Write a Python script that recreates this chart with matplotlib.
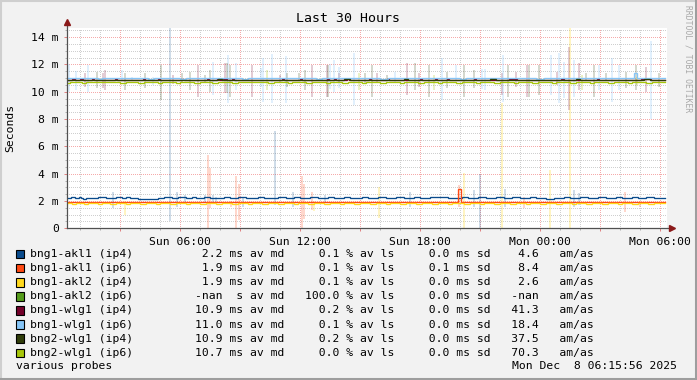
import matplotlib

matplotlib.use("Agg")

import matplotlib.pyplot as plt
from matplotlib.patches import Rectangle
from matplotlib.ticker import FixedLocator, MultipleLocator

W, H = 697, 380
MONO = "DejaVu Sans Mono"

plt.rcParams.update({
    "font.family": MONO,
    "font.size": 8.2,
})

# time axis: hours since Sun 00:00
T_START, T_END, T_AXIS_END = 0.35, 30.25, 30.35
Y_MAX = 14.67

x_tick_pos = [3, 6, 9, 12, 15, 18, 21, 24, 27, 30]
x_tick_labels = ["", "Sun 06:00", "", "Sun 12:00", "", "Sun 18:00", "",
                 "Mon 00:00", "", "Mon 06:00"]
y_tick_pos = [0, 2, 4, 6, 8, 10, 12, 14]
y_tick_labels = ["0", "2 m", "4 m", "6 m", "8 m", "10 m", "12 m", "14 m"]

names = ["bng1-akl1 (ip4)", "bng1-akl1 (ip6)", "bng1-akl2 (ip4)", "bng1-akl2 (ip6)",
         "bng1-wlg1 (ip4)", "bng1-wlg1 (ip6)", "bng2-wlg1 (ip4)", "bng2-wlg1 (ip6)"]
colors = ["#0a4b8c", "#ff4a13", "#ffd81c", "#559c1b",
          "#73002a", "#86c5f7", "#303d0a", "#a7c60a"]
med_vals = ["2.2", "1.9", "1.9", "-nan", "10.9", "11.0", "10.9", "10.7"]
med_units = ["ms", "ms", "ms", " s", "ms", "ms", "ms", "ms"]
loss_vals = ["0.1", "0.1", "0.1", "100.0", "0.2", "0.1", "0.2", "0.0"]
sd_vals = ["0.0", "0.1", "0.0", "0.0", "0.0", "0.0", "0.0", "0.0"]
amas_vals = ["4.6", "8.4", "2.6", "-nan", "41.3", "18.4", "37.5", "70.3"]

# median lines, (hour, value in ms) breakpoints of a step line
akl1_v4 = [(0.35, 2.2), (0.55, 2.27), (0.75, 2.2), (0.95, 2.27), (1.05, 2.2), (1.15, 2.12),
           (1.3, 2.2), (1.9, 2.27), (2.3, 2.2), (2.8, 2.27), (3.1, 2.2), (3.3, 2.27),
           (3.5, 2.2), (3.9, 2.12), (4.9, 2.2), (5.2, 2.27), (5.6, 2.2), (5.9, 2.27),
           (6.3, 2.2), (6.6, 2.27), (6.8, 2.2), (7.2, 2.27), (7.5, 2.2), (8.2, 2.27),
           (8.5, 2.2), (8.9, 2.27), (9.3, 2.2), (9.9, 2.27), (10.2, 2.2), (10.9, 2.27),
           (11.3, 2.2), (11.7, 2.27), (12.0, 2.2), (12.5, 2.27), (12.9, 2.2), (13.4, 2.27),
           (13.7, 2.2), (14.2, 2.27), (14.5, 2.2), (15.1, 2.27), (15.4, 2.2), (15.9, 2.27),
           (16.3, 2.2), (16.8, 2.27), (17.2, 2.2), (17.7, 2.27), (18.0, 2.2), (18.5, 2.27),
           (18.9, 2.32), (19.1, 2.27), (19.4, 2.2), (20.1, 2.27), (20.4, 2.2), (20.9, 2.27),
           (21.3, 2.2), (21.8, 2.27), (22.2, 2.2), (22.6, 2.27), (23.0, 2.2), (23.5, 2.27),
           (23.8, 2.2), (24.3, 2.12), (24.7, 2.2), (25.2, 2.27), (25.5, 2.2), (26.0, 2.27),
           (26.4, 2.2), (26.9, 2.27), (27.3, 2.2), (27.8, 2.27), (28.1, 2.2), (28.6, 2.27),
           (28.9, 2.2), (29.3, 2.27), (29.7, 2.2)]
akl1_v6 = [(0.35, 1.9), (19.9, 2.88), (20.04, 1.9)]
akl2_v4 = [(0.35, 1.86), (0.6, 1.8), (0.8, 1.86), (1.2, 1.8), (1.4, 1.86), (1.9, 1.8),
           (2.1, 1.86), (2.5, 1.8), (2.8, 1.86), (3.3, 1.8), (3.5, 1.86), (4.0, 1.8),
           (4.3, 1.86), (4.8, 1.8), (5.0, 1.86), (5.5, 1.8), (5.8, 1.86), (6.3, 1.8),
           (6.5, 1.86), (7.0, 1.8), (7.3, 1.86), (7.8, 1.8), (8.1, 1.86), (8.6, 1.8),
           (8.9, 1.86), (9.4, 1.8), (9.6, 1.86), (10.1, 1.8), (10.4, 1.86), (10.9, 1.8),
           (11.2, 1.86), (11.7, 1.8), (11.9, 1.86), (12.4, 1.8), (12.7, 1.86), (13.2, 1.8),
           (13.5, 1.86), (14.0, 1.8), (14.2, 1.86), (14.7, 1.8), (15.0, 1.86), (15.5, 1.8),
           (15.8, 1.86), (16.3, 1.8), (16.5, 1.86), (17.0, 1.8), (17.3, 1.86), (17.8, 1.8),
           (18.1, 1.86), (18.6, 1.8), (18.9, 1.86), (19.4, 1.8), (19.6, 1.86), (20.2, 1.8),
           (20.5, 1.86), (21.0, 1.8), (21.2, 1.86), (21.7, 1.8), (22.0, 1.86), (22.5, 1.8),
           (22.8, 1.86), (23.3, 1.8), (23.5, 1.86), (24.0, 1.8), (24.3, 1.86), (24.8, 1.8),
           (25.1, 1.86), (25.6, 1.8), (25.8, 1.86), (26.3, 1.8), (26.6, 1.86), (27.1, 1.8),
           (27.4, 1.86), (27.9, 1.8), (28.1, 1.86), (28.6, 1.8), (28.9, 1.86), (29.4, 1.8),
           (29.7, 1.86)]
wlg1_v4 = [(0.35, 10.86), (0.6, 10.97), (0.75, 10.86), (1.0, 10.97), (1.15, 10.86),
           (1.6, 10.97), (1.7, 10.86), (2.75, 10.97), (2.85, 10.86), (4.15, 10.97),
           (4.25, 10.86), (4.9, 10.97), (5.0, 10.86), (6.1, 10.97), (6.2, 10.86),
           (7.35, 10.97), (7.45, 10.86), (7.85, 10.97), (7.95, 10.86), (8.15, 10.97),
           (8.35, 10.86), (8.6, 10.97), (8.7, 10.86), (11.1, 10.97), (11.2, 10.86),
           (12.0, 10.97), (12.1, 10.86), (13.35, 10.97), (13.45, 10.86), (13.7, 10.97),
           (13.8, 10.86), (14.35, 10.97), (14.45, 10.86), (15.45, 10.97), (15.55, 10.86),
           (16.35, 10.97), (16.45, 10.86), (18.0, 10.97), (18.1, 10.86), (18.75, 10.97),
           (18.85, 10.86), (19.35, 10.97), (19.45, 10.86), (20.7, 10.97), (20.8, 10.86),
           (22.45, 10.97), (22.85, 10.86), (25.05, 10.97), (25.2, 10.86), (26.85, 10.97),
           (26.95, 10.86), (29.05, 10.97), (29.55, 10.86)]
wlg1_v6 = [(0.35, 11.0), (1.9, 10.9), (2.1, 11.0), (4.4, 10.9), (4.7, 11.0), (6.0, 10.9),
           (6.3, 11.0), (9.1, 10.9), (9.4, 11.0), (12.8, 10.9), (13.1, 11.0), (16.0, 10.9),
           (16.4, 11.0), (20.0, 10.9), (20.3, 11.0), (23.8, 10.9), (24.2, 11.0),
           (28.7, 11.4), (28.85, 11.0)]
wlg2_v4 = [(0.35, 10.88), (7.9, 10.95), (8.1, 10.88), (14.2, 10.95), (14.5, 10.88),
           (17.2, 10.95), (17.4, 10.88), (21.5, 10.95), (21.8, 10.88), (25.8, 10.95),
           (26.0, 10.88), (29.2, 10.95), (29.5, 10.88)]
wlg2_v6 = [(0.35, 10.62), (0.5, 10.68), (1.1, 10.62), (1.3, 10.68), (2.0, 10.74),
           (2.3, 10.68), (3.0, 10.62), (3.3, 10.68), (3.9, 10.62), (4.2, 10.68),
           (4.9, 10.62), (5.1, 10.68), (5.8, 10.62), (6.0, 10.68), (6.7, 10.62),
           (7.0, 10.68), (7.6, 10.62), (7.9, 10.68), (8.6, 10.62), (8.9, 10.68),
           (9.6, 10.74), (9.9, 10.68), (10.4, 10.62), (10.7, 10.68), (11.4, 10.62),
           (11.6, 10.68), (12.3, 10.62), (12.6, 10.68), (13.3, 10.62), (13.5, 10.68),
           (14.1, 10.62), (14.4, 10.68), (15.1, 10.62), (15.3, 10.68), (16.0, 10.62),
           (16.3, 10.68), (17.0, 10.62), (17.2, 10.68), (17.9, 10.62), (18.2, 10.68),
           (18.9, 10.62), (19.1, 10.68), (19.8, 10.62), (20.1, 10.68), (20.8, 10.62),
           (21.0, 10.68), (21.7, 10.62), (22.0, 10.68), (22.7, 10.62), (22.9, 10.68),
           (23.6, 10.62), (23.9, 10.68), (24.6, 10.62), (24.8, 10.68), (25.5, 10.62),
           (25.8, 10.68), (26.5, 10.62), (26.7, 10.68), (27.4, 10.62), (27.7, 10.68),
           (28.4, 10.62), (28.6, 10.68), (29.3, 10.62), (29.6, 10.68)]

# smoke: (hour, low ms, high ms)
smoke_akl1_v4 = [(2.65, 1.47, 2.68), (5.5, 0.5, 14.67), (5.85, 1.58, 2.68), (6.25, 1.95, 2.44),
                 (7.25, 1.83, 2.44), (7.65, 1.8, 2.44), (7.8, 1.83, 2.3), (9.15, 1.58, 2.3),
                 (10.75, 1.7, 7.1), (11.65, 1.58, 2.68), (13.25, 1.83, 2.44), (17.5, 1.58, 2.68),
                 (20.7, 1.58, 2.8), (21.0, 0.0, 4.0), (22.25, 1.58, 2.86), (25.7, 1.58, 2.8),
                 (25.95, 1.7, 2.56)]
smoke_akl1_v6 = [(7.42, 0.0, 5.37), (7.52, 1.46, 4.39), (8.55, 1.58, 2.0), (8.8, 0.0, 3.86),
                 (8.97, 0.6, 3.25), (12.1, 0.0, 3.86), (12.2, 0.7, 3.25), (12.6, 1.34, 2.68),
                 (19.95, 1.58, 3.17), (23.2, 1.46, 2.3), (28.25, 1.2, 2.68), (29.0, 1.58, 2.0)]
smoke_akl2_v4 = [(3.25, 1.0, 2.0), (12.7, 1.3, 2.0), (15.93, 0.73, 3.05), (20.2, 0.0, 4.05),
                 (22.1, 0.0, 9.2), (24.5, 0.0, 4.3), (25.5, 0.0, 14.67)]
smoke_wlg1_v4 = [(1.25, 10.38, 11.35), (2.15, 10.3, 11.35), (2.25, 10.13, 11.6),
                 (5.65, 10.6, 11.23), (6.9, 9.64, 11.96), (8.25, 9.89, 12.09),
                 (9.6, 9.64, 11.96), (11.0, 10.74, 11.23), (12.6, 9.64, 11.96),
                 (13.35, 9.64, 11.96), (13.95, 10.62, 11.35), (15.85, 10.62, 11.35),
                 (17.35, 9.77, 12.09), (17.95, 10.38, 11.35), (22.1, 9.77, 11.35),
                 (22.8, 10.38, 11.48), (23.35, 9.64, 11.96), (24.85, 10.5, 11.48),
                 (25.45, 8.67, 13.31), (25.95, 10.13, 12.09), (29.3, 10.01, 11.84)]
smoke_wlg1_v6 = [(0.45, 10.0, 12.0), (0.8, 10.1, 11.5), (1.4, 10.0, 11.96), (3.1, 10.86, 11.6),
                 (3.6, 10.86, 11.1), (4.65, 10.5, 11.1), (7.65, 9.77, 12.21), (8.4, 9.16, 12.7),
                 (8.8, 10.13, 12.09), (10.05, 10.38, 11.72), (10.15, 9.28, 12.45),
                 (10.6, 9.2, 12.8), (11.3, 9.2, 12.6), (13.5, 10.2, 12.0), (13.7, 10.0, 12.3),
                 (13.95, 10.3, 11.8), (14.7, 9.0, 12.82), (16.75, 10.74, 11.48),
                 (19.1, 9.4, 12.45), (19.8, 10.86, 11.96), (21.1, 10.2, 11.7),
                 (21.25, 10.13, 11.7), (22.15, 9.28, 12.7), (24.55, 9.77, 12.7),
                 (24.95, 9.16, 12.82), (25.2, 9.52, 12.2), (25.7, 9.64, 12.33),
                 (26.95, 10.13, 11.96), (27.6, 9.28, 12.45), (27.95, 10.13, 11.96),
                 (29.55, 8.0, 13.7)]
smoke_wlg2_v4 = [(1.85, 10.25, 11.48), (3.25, 10.13, 11.35), (4.25, 10.25, 11.35),
                 (5.05, 9.4, 11.96), (6.1, 10.62, 11.35), (6.5, 10.13, 11.48),
                 (7.25, 10.62, 11.23), (7.5, 10.01, 11.6), (8.35, 9.89, 12.09),
                 (8.5, 9.64, 11.96), (11.35, 10.38, 11.35), (11.95, 10.86, 11.35),
                 (12.25, 10.13, 11.6), (13.4, 9.64, 11.96), (15.25, 10.6, 11.35),
                 (15.6, 9.64, 11.96), (16.35, 10.86, 11.23), (17.75, 10.13, 12.09),
                 (18.45, 9.64, 11.96), (19.35, 10.25, 11.48), (20.2, 9.64, 11.96),
                 (20.7, 10.25, 11.6), (22.4, 9.64, 11.96), (23.45, 9.64, 11.96),
                 (23.95, 9.77, 11.96), (26.3, 10.86, 11.35), (26.7, 9.64, 11.96),
                 (27.3, 10.86, 11.35), (28.3, 10.25, 11.48), (28.8, 10.13, 11.96),
                 (29.95, 10.38, 11.35)]
smoke_wlg2_v6 = [(10.35, 10.13, 11.6), (14.95, 10.13, 11.35), (18.7, 10.13, 11.23),
                 (26.1, 10.13, 11.23), (28.85, 10.5, 11.1)]


def px_x(x):
    return x / W


def px_y(y):
    return 1 - y / H


def draw_step(ax, points, color):
    xs = [p[0] for p in points] + [T_END]
    ys = [p[1] for p in points] + [points[-1][1]]
    ax.step(xs, ys, where="post", color=color, lw=0.95, zorder=5,
            solid_joinstyle="miter")


def draw_smoke(ax, spikes, color, alpha):
    ax.vlines([s[0] for s in spikes], [s[1] for s in spikes], [s[2] for s in spikes],
              colors=color, alpha=alpha, lw=1.1, zorder=3)


def main() -> None:
    fig = plt.figure(figsize=(W / 100, H / 100), dpi=100, facecolor="#f2f2f2")

    # frame shading
    fig.add_artist(plt.Line2D([0, 1], [1 - 1 / H, 1 - 1 / H], transform=fig.transFigure,
                              color="#cfcfcf", lw=1.5))
    fig.add_artist(plt.Line2D([1 / W, 1 / W], [0, 1], transform=fig.transFigure,
                              color="#cfcfcf", lw=1.5))
    fig.add_artist(plt.Line2D([0, 1], [1.5 / H, 1.5 / H], transform=fig.transFigure,
                              color="#9e9e9e", lw=2.2))
    fig.add_artist(plt.Line2D([1 - 1.5 / W, 1 - 1.5 / W], [0, 1], transform=fig.transFigure,
                              color="#9e9e9e", lw=2.2))

    ax = fig.add_axes([px_x(67), px_y(228.3), 600 / W, (228.3 - 28) / H])
    ax.set_facecolor("white")
    ax.set_xlim(T_START, T_AXIS_END)
    ax.set_ylim(0, Y_MAX)

    for spine in ax.spines.values():
        spine.set_visible(False)

    ax.xaxis.set_major_locator(FixedLocator(x_tick_pos))
    ax.set_xticklabels(x_tick_labels)
    ax.xaxis.set_minor_locator(MultipleLocator(1))
    ax.yaxis.set_major_locator(FixedLocator(y_tick_pos))
    ax.set_yticklabels(y_tick_labels)
    ax.yaxis.set_minor_locator(MultipleLocator(0.5))

    ax.grid(which="minor", color="#cfcfcf", lw=0.72, linestyle=(0, (1, 1.5)),
            antialiased=False)
    ax.grid(which="major", color="#f5aaaa", lw=0.72, linestyle=(0, (1, 1.5)),
            antialiased=False)
    ax.set_axisbelow(True)
    ax.tick_params(which="major", length=2.5, width=0.7, color="#e08080",
                   labelsize=8.2, pad=3.5)
    ax.tick_params(which="minor", length=1.5, width=0.7, color="#b0b0b0")

    # smoke first, then median lines in legend order
    draw_smoke(ax, smoke_akl1_v4, colors[0], 0.25)
    draw_smoke(ax, smoke_akl1_v6, colors[1], 0.28)
    draw_smoke(ax, smoke_akl2_v4, colors[2], 0.35)
    draw_smoke(ax, smoke_wlg1_v4, colors[4], 0.26)
    draw_smoke(ax, smoke_wlg1_v6, colors[5], 0.32)
    draw_smoke(ax, smoke_wlg2_v4, colors[6], 0.26)
    draw_smoke(ax, smoke_wlg2_v6, colors[7], 0.3)

    for series, c in zip([akl1_v4, akl1_v6, akl2_v4, wlg1_v4, wlg1_v6, wlg2_v4, wlg2_v6],
                         [colors[0], colors[1], colors[2], colors[4], colors[5],
                          colors[6], colors[7]]):
        draw_step(ax, series, c)

    # axes with arrows
    ax.plot([0, 0], [0, 1.025], transform=ax.transAxes, clip_on=False,
            color="#505050", lw=0.9, zorder=6)
    ax.plot([0, 1.008], [0, 0], transform=ax.transAxes, clip_on=False,
            color="#505050", lw=0.9, zorder=6)
    ax.plot(0, 1.028, marker="^", ms=4, color="#8b1a1a", transform=ax.transAxes,
            clip_on=False, zorder=7)
    ax.plot(1.009, 0, marker=">", ms=4, color="#8b1a1a", transform=ax.transAxes,
            clip_on=False, zorder=7)

    fig.text(px_x(348), px_y(19), "Last 30 Hours", ha="center", va="center",
             fontsize=9.5)
    fig.text(px_x(10.5), px_y(128), "Seconds", ha="center", va="center",
             rotation=90, fontsize=8.2)
    fig.text(px_x(688), px_y(5), "RRDTOOL / TOBI OETIKER", ha="center", va="top",
             rotation=270, fontsize=5.8, color="#a8a8a8")

    # legend
    for i, name in enumerate(names):
        yc = 254.0 + 14.1 * i
        fig.add_artist(Rectangle((px_x(15.5), px_y(yc + 4.3)), 8.5 / W, 8.5 / H,
                                 transform=fig.transFigure, facecolor=colors[i],
                                 edgecolor="black", lw=0.8))
        line = (f"{name:<15}{med_vals[i]:>13} {med_units[i]} av md "
                f"{loss_vals[i]:>7} % av ls {sd_vals[i]:>7} ms sd "
                f"{amas_vals[i]:>6}   am/as")
        fig.text(px_x(29.5), px_y(yc), line, ha="left", va="center", fontsize=8.2)

    fig.text(px_x(16.5), px_y(366), "various probes", ha="left", va="center",
             fontsize=8.2)
    fig.text(px_x(512), px_y(366), "Mon Dec  8 06:15:56 2025", ha="left",
             va="center", fontsize=8.2)

    fig.savefig("out.png", dpi=100, facecolor=fig.get_facecolor())
    plt.close(fig)


if __name__ == "__main__":
    main()
